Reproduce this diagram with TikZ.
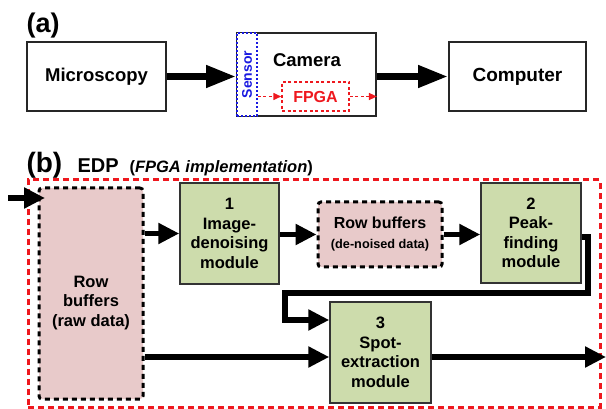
\documentclass[tikz,border=0pt]{standalone}
\usepackage{fontspec}
\setmainfont{Liberation Sans}
\usetikzlibrary{arrows.meta,calc}
\definecolor{boxgreen}{RGB}{205,220,172}
\definecolor{bufpink}{RGB}{232,202,202}
\definecolor{edpred}{RGB}{238,24,30}
\definecolor{sensblue}{RGB}{25,25,225}
\newcommand{\fs}[2]{\fontsize{#1}{#2}\selectfont\bfseries}
\begin{document}
\begin{tikzpicture}[x=1pt,y=-1pt,
  sized/.style 2 args={inner sep=0pt, minimum width=#1, minimum height=#2},
  plainbox/.style={draw=black!85, line width=1.8pt, align=center, font=\fs{18.5}{22}},
  modbox/.style={draw=black!80, line width=1.5pt, fill=boxgreen, align=center, font=\fs{16.5}{19.5}},
  bufbox/.style={draw=black, line width=3pt, dash pattern=on 5pt off 4pt, fill=bufpink, rounded corners=3pt},
  bigarrow/.style={line width=7pt, -{Triangle[length=30pt,width=21pt]}},
  flow/.style={line width=5.5pt, line join=miter, -{Triangle[length=21pt,width=20pt]}},
  smallred/.style={draw=edpred, line width=1.5pt, dash pattern=on 3pt off 2.5pt, -{Triangle[length=8pt,width=7pt]}}
]
\useasboundingbox (0,0) rectangle (606,409);

% ---------- (a) acquisition chain ----------
\node[anchor=base west, font=\fs{27}{30}] (lbla) at (23,33) {(a)};
\node[plainbox, sized={139pt}{69pt}] (micro) at (96.5,76.5) {Microscopy};
\node[plainbox, sized={139pt}{83pt}] (cam) at (306.5,74.5) {};
\node[font=\fs{18.5}{22}] (camtext) at (307,60) {Camera};
\node[draw=sensblue, fill=white, line width=1.5pt, dash pattern=on 2pt off 2pt, sized={20pt}{83pt}] (sensor) at (247,74.5) {};
\node[rotate=90, text=sensblue, font=\fs{14}{16}] (senstext) at (sensor.center) {Sensor};
\node[draw=edpred, line width=1.5pt, dash pattern=on 3pt off 2.5pt, sized={67pt}{29pt}, text=edpred, font=\fs{16}{18}] (fpga) at (315.5,96.5) {FPGA};
\node[plainbox, sized={137pt}{69pt}, font=\fs{19}{22}] (comp) at (517.5,76.5) {Computer};

\draw[bigarrow] (micro.east) -- (micro.east -| cam.west);
\draw[bigarrow] (cam.east |- comp.west) -- (comp.west);
\draw[smallred] (fpga.west -| sensor.east) -- (fpga.west);
\draw[smallred] (fpga.east) -- (fpga.east -| cam.east);

% ---------- (b) EDP on the FPGA ----------
\node[anchor=base west, font=\fs{28}{30}] (lblb) at (23,173) {(b)};
\node[anchor=base west, font=\fs{20}{22}] (edptitle) at (74,173) {EDP};
\node[anchor=base west, font=\fs{16.5}{18}] (edpsub) at (126,173) {(\textit{FPGA implementation})};

\node[draw=edpred, line width=3pt, dash pattern=on 6pt off 4pt, sized={572pt}{227pt}] (edp) at (314,293.5) {};

\node[bufbox, sized={104pt}{211pt}] (raw) at (91,293.5) {};
\node[align=center, font=\fs{16.5}{19.5}] (rawtext) at (91,303) {Row\\buffers\\(raw data)};
\node[modbox, sized={99pt}{101pt}] (den) at (229.5,233.5) {1\\Image-\\denoising\\module};
\node[bufbox, sized={124pt}{65pt}] (dn) at (380,234.5) {};
\node[align=center, font=\fs{16}{20}] (dntext) at (380,234.5) {Row buffers\\{\fs{12.7}{14}(de-noised data)}};
\node[modbox, sized={100pt}{100pt}] (peak) at (531,233) {2\\Peak-\\finding\\module};
\node[modbox, sized={101pt}{101pt}] (spot) at (380.5,352.5) {3\\Spot-\\extraction\\module};

\coordinate (feed) at (8,198);
\coordinate (rawin) at (45,198);
\coordinate (uprow) at (0,320);
\coordinate (lowrow) at (0,357);
\coordinate (outp) at (606,357);
\coordinate (bendr) at (588,293);
\coordinate (bendl) at (285,320);

\draw[flow] (feed) -- (rawin);
\draw[flow] (raw.east |- den.west) -- (den.west);
\draw[flow] (den.east |- dn.west) -- (dn.west);
\draw[flow] (dn.east) -- (dn.east -| peak.west);
\draw[flow] ([yshift=-4pt]peak.east) -| (bendr) -| (bendl) -- (spot.west |- uprow);
\draw[flow] (raw.east |- lowrow) -- (spot.west |- lowrow);
\draw[flow] (spot.east |- lowrow) -- (outp);
\end{tikzpicture}
\end{document}
